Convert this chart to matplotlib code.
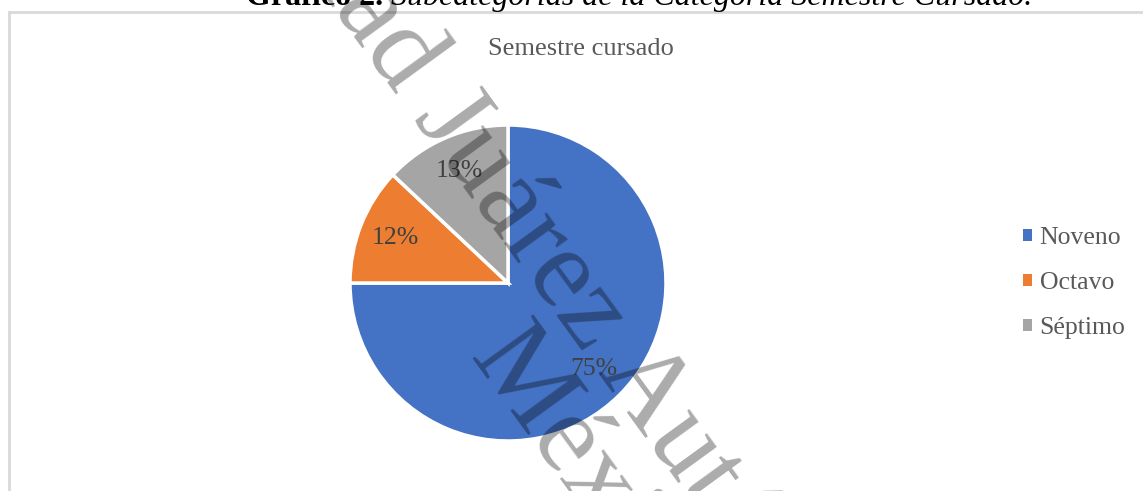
import numpy as np
import matplotlib.pyplot as plt
from matplotlib.lines import Line2D
from matplotlib.patches import Patch
from matplotlib.font_manager import FontProperties

# Data
categories = ['Noveno', 'Octavo', 'Séptimo']
values = [75, 12, 13]
colors = ['#4472C4', '#ED7D31', '#A5A5A5']

W, H = 1143, 491
plt.rcParams['font.family'] = ['Liberation Serif', 'DejaVu Serif']
fig = plt.figure(figsize=(W / 100, H / 100), dpi=100)
renderer = fig.canvas.get_renderer()


def fx(px):
    return px / W


def fy(py):
    return 1 - py / H


def text_w(s, prop):
    return renderer.get_text_width_height_descent(s, prop, ismath=False)[0]


# Chart frame (left and top edges only are visible)
fig.add_artist(Line2D([fx(9), fx(9)], [fy(12), fy(H + 10)], color='#D9D9D9', lw=2))
fig.add_artist(Line2D([fx(9), fx(W + 10)], [fy(12), fy(12)], color='#D9D9D9', lw=2))

# Caption above the chart (cut off at the top)
bold = FontProperties(family='Liberation Serif', size=23, weight='bold')
ital = FontProperties(family='Liberation Serif', size=23, style='italic')
x0 = 246
fig.text(fx(x0), fy(5), 'Gráfico 2.', fontproperties=bold, ha='left', va='baseline', color='black')
fig.text(fx(x0 + text_w('Gráfico 2.', bold)), fy(5),
         ' Subcategorías de la Categoría Semestre Cursado.',
         fontproperties=ital, ha='left', va='baseline', color='black')

# Pie
cx, cy, r = 508, 283, 158
ax = fig.add_axes([fx(cx - r), fy(cy + r), 2 * r / W, 2 * r / H])
wedges, _, autotexts = ax.pie(values, colors=colors, startangle=90, counterclock=False,
                              autopct='%1.0f%%', pctdistance=0.77,
                              wedgeprops=dict(edgecolor='white', linewidth=2.5),
                              textprops=dict(color='#404040', fontsize=18.5))
ax.set_xlim(-1, 1)
ax.set_ylim(-1, 1)
for w in wedges:
    w.set_clip_on(False)

fig.text(fx(581), fy(49), 'Semestre cursado', ha='center', va='center',
         fontsize=19, color='#595959')

handles = [Patch(facecolor=c, edgecolor='none') for c in colors]
fig.legend(handles, categories, loc='center left', bbox_to_anchor=(fx(1023), fy(283)),
           frameon=False, fontsize=18.5, handlelength=0.35, handleheight=0.35,
           handletextpad=0.3, labelspacing=0.9, borderpad=0, borderaxespad=0,
           labelcolor='#595959')

# Watermark
wm = FontProperties(family='Liberation Serif', size=82)
ang = 54
d = np.array([np.cos(np.radians(ang)), np.sin(np.radians(ang))])
line1 = 'Universidad Juárez Autónoma de Tabasco.'
p1 = np.array([333, 8]) - text_w('Universid', wm) * d
line2 = 'México.'
p2 = np.array([468, 358])
for s, p in [(line1, p1), (line2, p2)]:
    fig.text(fx(p[0]), fy(p[1]), s, fontproperties=wm, rotation=-ang,
             rotation_mode='anchor', ha='left', va='baseline',
             color='black', alpha=0.33, zorder=10)

fig.savefig('out.png', dpi=100)
